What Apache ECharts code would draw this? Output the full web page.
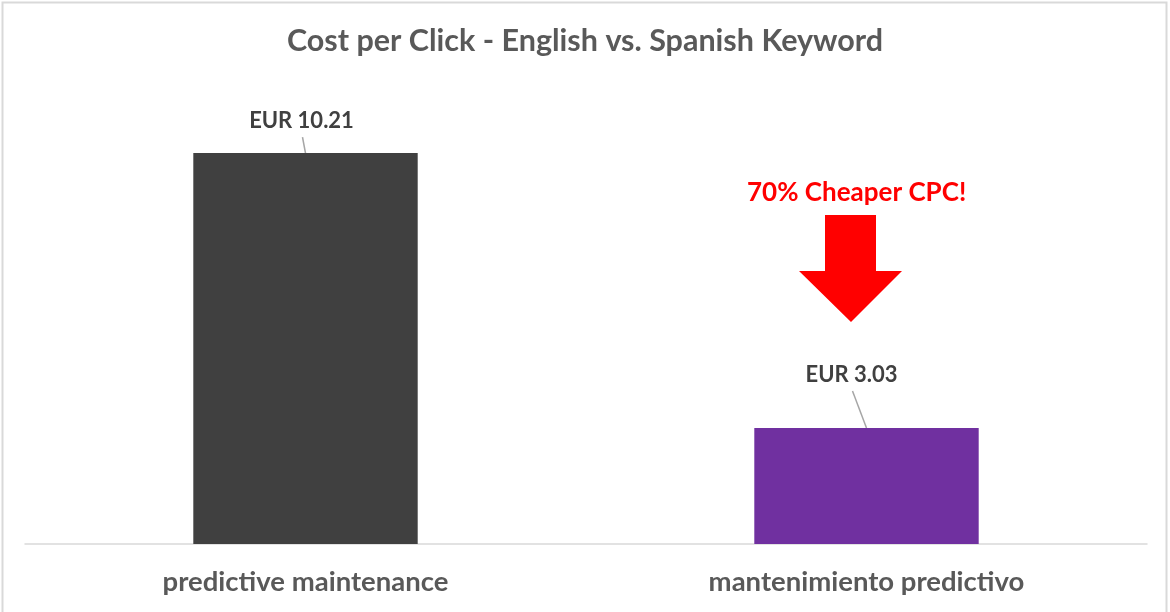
<!DOCTYPE html>
<html>
<head>
<meta charset="utf-8">
<style>
  html, body { margin: 0; padding: 0; background: #fff; }
  #main { width: 1170px; height: 612px; }
</style>
<script src="https://cdn.jsdelivr.net/npm/echarts@6/dist/echarts.min.js"></script>
</head>
<body>
<div id="main"></div>
<script>
var categories = ['predictive maintenance', 'mantenimiento predictivo'];
var cpcValues = [10.21, 3.03];
var barColors = ['#404040', '#7030a0'];
// how far each value label is pushed away from its bar (dx, dy)
var labelShift = [[-4, -21], [-15, -42]];

var chart = echarts.init(document.getElementById('main'));

var seriesData = [];
for (var i = 0; i < cpcValues.length; i++) {
    seriesData.push({
        value: cpcValues[i],
        itemStyle: { color: barColors[i] }
    });
}

var baseGraphic = [
    {
        type: 'rect',
        silent: true,
        shape: { x: 2.5, y: 2.5, width: 1164, height: 640 },
        style: { fill: 'none', stroke: '#d9d9d9', lineWidth: 2 }
    },
    {
        type: 'text',
        left: 857 - 110,
        top: 180,
        style: {
            text: '70% Cheaper CPC!',
            font: 'bold 26px Lato',
            fill: '#ff0000'
        }
    },
    {
        type: 'polygon',
        shape: {
            points: [[825, 215], [876, 215], [876, 271], [902, 271], [851, 322], [799, 271], [825, 271]]
        },
        style: { fill: '#ff0000' }
    }
];

chart.setOption({
    animation: false,
    title: {
        text: 'Cost per Click - English vs. Spanish Keyword',
        left: 'center',
        top: 21,
        textStyle: { fontFamily: 'Lato', fontSize: 30.5, fontWeight: 'bold', color: '#595959' }
    },
    grid: { left: 25, right: 23, top: 84.5, bottom: 68 },
    xAxis: {
        type: 'category',
        data: categories,
        axisTick: { show: false },
        axisLine: { lineStyle: { color: '#d9d9d9', width: 1.5 } },
        axisLabel: { margin: 24, fontFamily: 'Lato', fontSize: 27.5, fontWeight: 'bold', color: '#595959' }
    },
    yAxis: {
        type: 'value',
        min: 0,
        max: 12,
        show: false,
        splitLine: { show: false }
    },
    series: [{
        type: 'bar',
        barWidth: '40%',
        data: seriesData,
        label: {
            show: true,
            position: 'top',
            distance: 0,
            formatter: function (p) { return 'EUR ' + p.value.toFixed(2); },
            fontFamily: 'Lato',
            fontSize: 22,
            fontWeight: 'bold',
            color: '#404040'
        },
        labelLayout: function (p) {
            return { dx: labelShift[p.dataIndex][0], dy: labelShift[p.dataIndex][1] };
        }
    }],
    graphic: baseGraphic
});

// leader lines from each shifted label down to the top of its bar
var leaders = [];
for (var j = 0; j < cpcValues.length; j++) {
    var barTop = chart.convertToPixel({ seriesIndex: 0 }, [j, cpcValues[j]]);
    leaders.push({
        type: 'line',
        silent: true,
        shape: {
            x1: barTop[0] + labelShift[j][0] + 1,
            y1: barTop[1] + labelShift[j][1] + 5,
            x2: barTop[0],
            y2: barTop[1]
        },
        style: { stroke: '#a6a6a6', lineWidth: 1.5 }
    });
}
chart.setOption({ graphic: baseGraphic.concat(leaders) });
</script>
</body>
</html>
